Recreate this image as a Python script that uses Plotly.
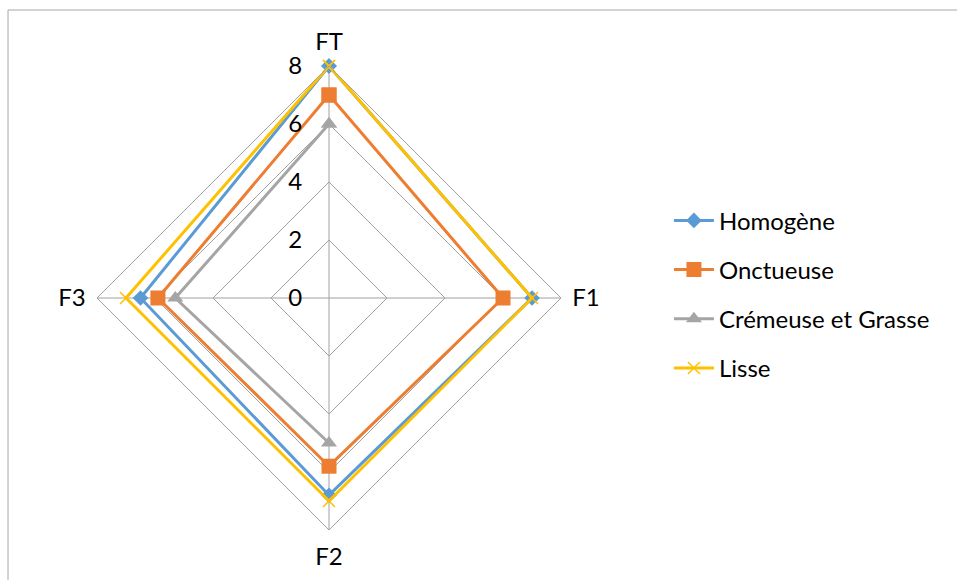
import plotly.graph_objects as go

# Sensory profile: four attributes scored on the four axes FT, F1, F2, F3
axes = ["FT", "F1", "F2", "F3"]
homogene = [8, 7, 6.8, 6.5]
onctueuse = [7, 6, 5.8, 5.9]
cremeuse = [6, None, 5, 5.3]   # no score for F1
lisse = [8, 7, 7, 7]

series_names = ["Homogène", "Onctueuse", "Crémeuse et Grasse", "Lisse"]
series_values = [homogene, onctueuse, cremeuse, lisse]
colors = ["#5B9BD5", "#ED7D31", "#A5A5A5", "#FFC000"]
symbols = ["diamond", "square", "triangle-up", "x-thin"]
sizes = [12, 15, 14, 12]

FONT = "Lato, 'Open Sans', sans-serif"
FS = 24

fig = go.Figure()
for i, (name, vals) in enumerate(zip(series_names, series_values)):
    # close the polygon by repeating the first axis
    r = list(vals) + [vals[0]]
    theta = axes + [axes[0]]
    marker = dict(symbol=symbols[i], size=sizes[i], color=colors[i])
    if symbols[i] == "x-thin":
        marker["line"] = dict(color=colors[i], width=1.5)
    fig.add_trace(go.Scatterpolar(
        r=r, theta=theta, name=name, mode="lines+markers",
        connectgaps=False,
        line=dict(color=colors[i], width=3),
        marker=marker,
        legendgroup=f"g{i}",
    ))

fig.update_layout(
    width=957, height=580,
    margin=dict(l=0, r=0, t=0, b=0),
    paper_bgcolor="white",
    font=dict(family=FONT, size=FS, color="black"),
    polar=dict(
        domain=dict(x=[97 / 957, 561 / 957], y=[1 - 530 / 580, 1 - 66 / 580]),
        gridshape="linear",
        bgcolor="white",
        radialaxis=dict(
            range=[0, 8], dtick=2, angle=90, tickangle=90,
            showline=False, ticks="outside", ticklen=18,
            tickcolor="rgba(0,0,0,0)", side="counterclockwise",
            gridcolor="#A0A0A0", gridwidth=1,
            tickfont=dict(size=FS, color="black"),
        ),
        angularaxis=dict(
            rotation=90, direction="clockwise",
            categoryorder="array", categoryarray=axes,
            showline=True, linecolor="#A0A0A0", linewidth=1,
            gridcolor="#A0A0A0", gridwidth=1,
            ticks="outside", ticklen=6, tickcolor="rgba(0,0,0,0)",
            tickfont=dict(size=FS, color="black"),
        ),
    ),
    showlegend=True,
    legend=dict(
        x=0.699, y=0.4926, xanchor="left", yanchor="middle",
        traceorder="grouped", tracegroupgap=15,
        font=dict(size=FS, color="black"),
        itemwidth=40, bgcolor="rgba(0,0,0,0)",
    ),
    shapes=[
        dict(type="line", xref="paper", yref="paper", x0=8 / 957, x1=1.0,
             y0=1 - 10 / 580, y1=1 - 10 / 580, line=dict(color="#A6A6A6", width=1)),
        dict(type="line", xref="paper", yref="paper", x0=8 / 957, x1=8 / 957,
             y0=0, y1=1 - 10 / 580, line=dict(color="#A6A6A6", width=1)),
    ],
)

fig.write_html("out.html")
